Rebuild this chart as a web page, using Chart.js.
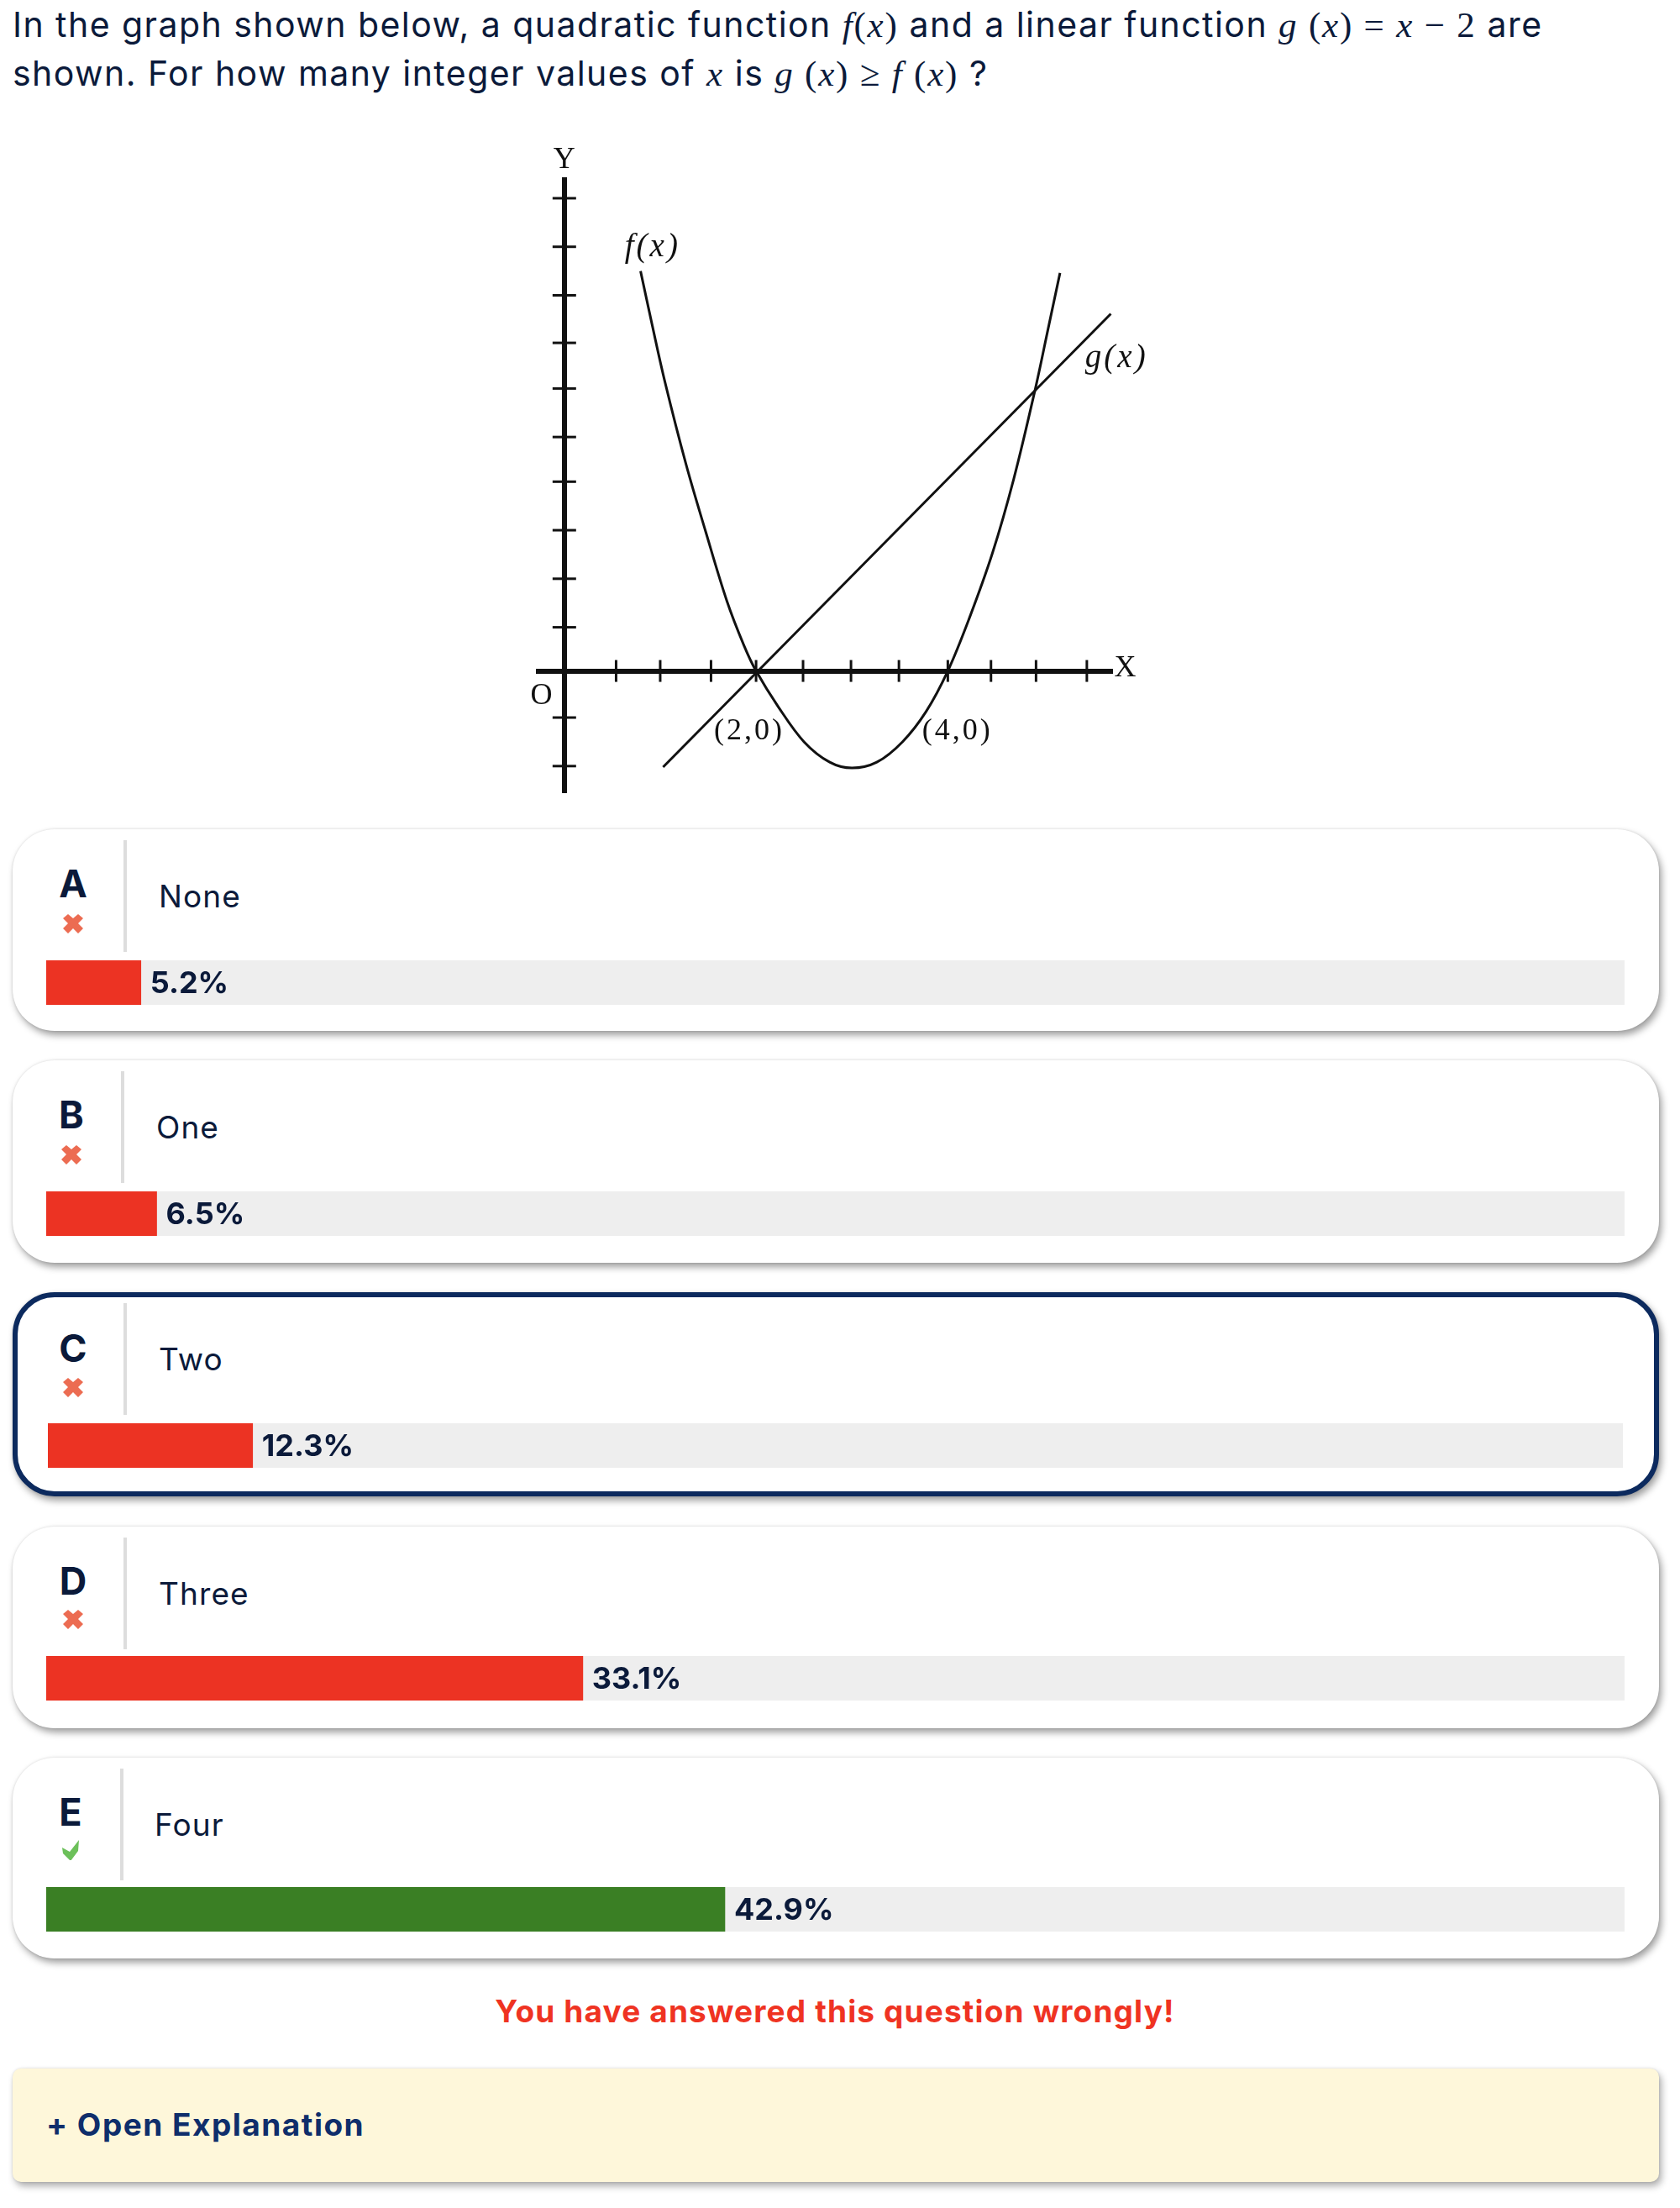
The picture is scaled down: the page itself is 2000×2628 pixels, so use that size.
<!DOCTYPE html>
<html>
<head>
<meta charset="utf-8">
<script src="https://cdn.jsdelivr.net/npm/chart.js@4"></script>
<style>
  html, body { margin:0; padding:0; background:#fff; }
  body { position:relative; width:2000px; height:2628px; overflow:hidden; font-family:Inter, sans-serif; color:#0b1a3a; }
  .abs { position:absolute; white-space:nowrap; }
  .q { left:15px; font-size:41px; letter-spacing:1.45px; line-height:58px; }
  .m { font-family:"Liberation Serif", serif; font-size:43px; letter-spacing:1.8px; }
  .m i { font-style:italic; }
  .card { position:absolute; left:15px; width:1960px; background:#fff; border-radius:50px; box-sizing:border-box;
          box-shadow:3px 5px 8px rgba(0,0,0,.38), 0 0 3px rgba(0,0,0,.12); }
  .card.sel { border:6px solid #0c2a5e; }
  .letter { position:absolute; font-weight:700; font-size:45px; line-height:44px; transform:translate(-50%,-50%); }
  .divider { position:absolute; width:4px; height:133px; background:#ddd; }
  .opt { position:absolute; font-size:37px; line-height:44px; letter-spacing:1.1px; transform:translateY(-50%); }
  .icon { position:absolute; width:24px; height:24px; transform:translate(-50%,-50%); }
  canvas { position:absolute; }
  .msg { left:0; width:1988px; text-align:center; top:2371px; font-size:37px; line-height:46px; font-weight:700; color:#ef3322; letter-spacing:1.15px; }
  .expl { position:absolute; left:15px; top:2462px; width:1960px; height:135px; background:#fef7da; border-radius:10px;
          box-shadow:3px 5px 8px rgba(0,0,0,.32), 0 0 3px rgba(0,0,0,.12); }
  .expl span { position:absolute; left:40px; top:44px; font-size:37px; line-height:46px; font-weight:700; color:#0f2e6b; white-space:nowrap; letter-spacing:1.5px; }
</style>
</head>
<body>
<div class="abs q" style="top:0px">In the graph shown below, a quadratic function <span class="m"><i>f</i>(<i>x</i>)</span> and a linear function <span class="m"><i>g</i> (<i>x</i>) = <i>x</i> − 2</span> are</div>
<div class="abs q" style="top:58px">shown. For how many integer values of <span class="m"><i>x</i></span> is <span class="m"><i>g</i> (<i>x</i>) ≥ <i>f</i> (<i>x</i>)</span> ?</div>

<canvas id="graph" width="900" height="830" style="left:560px;top:150px"></canvas>
<div id="cards"></div>

<div class="abs msg">You have answered this question wrongly!</div>
<div class="expl"><span>+ Open Explanation</span></div>

<script>
// graph data
const fX = [0.795,0.915,1.049,1.272,1.473,1.696,1.875,2.0,2.232,2.5,2.768,3.0,3.259,3.527,3.772,4.0,4.219,4.464,4.688,4.911,5.045,5.17];
const fY = [4.12,3.57,2.98,2.12,1.44,0.72,0.26,0,-0.37,-0.73,-0.94,-1.0,-0.94,-0.73,-0.42,0,0.53,1.21,1.98,2.9,3.52,4.1];
const gX = [1.03,5.7];
const gY = [-0.99,3.68];
const xTicks = [0.54,1.0,1.53,2.0,2.49,2.99,3.49,4.0,4.45,4.92,5.45];
const yTicks = [4.87,4.37,3.87,3.38,2.91,2.41,1.95,1.45,0.95,0.45,-0.48,-0.98];
const graphTexts = ['Y','f(x)','g(x)','X','O','(2,0)','(4,0)'];
const textX = [0,0.92,5.76,5.85,-0.24,1.93,4.1];
const textY = [5.26,4.36,3.22,0.03,-0.26,-0.62,-0.62];
const textItalic = [false,true,true,false,false,false,false];

// answer options
const letters = ['A','B','C','D','E'];
const answers = ['None','One','Two','Three','Four'];
const pctLabels = ['5.2%','6.5%','12.3%','33.1%','42.9%'];
const barLengths = [6,7,13,34,43];
const correct = [false,false,false,false,true];

// layout of the cards
const cardTop = [987,1262,1538,1817,2092];
const cardHeight = [240,241,243,240,239];
const barTop = [1143,1418,1694,1971,2246];
const barLeft = [55,55,57,55,55];
const barWidth = [1879,1879,1875,1879,1879];
const letterX = [87,85,87,87,84];
const letterY = [1052,1327,1605,1882,2157];
const iconY = [1099,1374,1651,1927,2202];
const dividerX = [147,144,147,147,143];
const textLeft = [189,186,189,189,184];

const pairs = (xs, ys) => xs.map((x, i) => ({x, y: ys[i]}));

const graphLabels = {
  id: 'graphLabels',
  afterDatasetsDraw(chart) {
    const {ctx, scales} = chart;
    ctx.save();
    ctx.fillStyle = '#111';
    ctx.textAlign = 'center';
    ctx.textBaseline = 'middle';
    graphTexts.forEach((t, i) => {
      ctx.font = (textItalic[i] ? 'italic 39px' : '36px') + ' "Liberation Serif"';
      ctx.letterSpacing = t.length > 1 ? '3px' : '0px';
      ctx.fillText(t, scales.x.getPixelForValue(textX[i]), scales.y.getPixelForValue(textY[i]));
    });
    ctx.restore();
  }
};

new Chart(document.getElementById('graph').getContext('2d'), {
  type: 'scatter',
  plugins: [graphLabels],
  data: {
    datasets: [
      { data: pairs(fX, fY), showLine: true, tension: 0.35, borderColor: '#111', borderWidth: 3, pointRadius: 0, clip: false },
      { data: pairs(gX, gY), showLine: true, borderColor: '#111', borderWidth: 3, pointRadius: 0, clip: false },
      { data: xTicks.map(x => ({x, y: 0})), pointStyle: 'line', pointRadius: 13, pointRotation: 90, pointBorderWidth: 3, pointBorderColor: '#111' },
      { data: yTicks.map(y => ({x: 0, y})), pointStyle: 'line', pointRadius: 14, pointBorderWidth: 3, pointBorderColor: '#111' }
    ]
  },
  options: {
    responsive: false,
    animation: false,
    layout: { padding: { left: 81, right: 136, top: 64, bottom: 37 } },
    plugins: { legend: { display: false }, tooltip: { enabled: false } },
    scales: {
      x: { type: 'linear', min: -0.27, max: 5.714, position: { y: 0 }, grid: { display: false }, ticks: { display: false }, border: { color: '#111', width: 6 } },
      y: { type: 'linear', min: -1.25, max: 5.06, position: { x: 0 }, grid: { display: false }, ticks: { display: false }, border: { color: '#111', width: 6 } }
    }
  }
});

const crossIcon = '<path d="M6 1 L12 6 L18 1 L24 6 L18 12 L24 18 L18 24 L12 18 L6 24 L0 18 L6 12 L0 6 Z" fill="#ec6c52"/>';
const checkIcon = '<path d="M2 9 L11 14 L22 0 L21 13 L12 25 L3 16 Z" fill="#6cc05a"/>';
const cards = document.getElementById('cards');

letters.forEach((letter, i) => {
  const sel = i === 2;
  cards.insertAdjacentHTML('beforeend', `
    <div class="card${sel ? ' sel' : ''}" style="top:${cardTop[i]}px;height:${cardHeight[i]}px"></div>
    <div class="letter" style="left:${letterX[i]}px;top:${letterY[i]}px">${letter}</div>
    <svg class="icon" viewBox="0 0 24 24" style="left:${letterX[i]}px;top:${iconY[i]}px">${correct[i] ? checkIcon : crossIcon}</svg>
    <div class="divider" style="left:${dividerX[i]}px;top:${cardTop[i] + 13}px"></div>
    <div class="opt" style="left:${textLeft[i]}px;top:${cardTop[i] + 80}px">${answers[i]}</div>
    <canvas id="bar${i}" width="${barWidth[i]}" height="53" style="left:${barLeft[i]}px;top:${barTop[i]}px"></canvas>`);
});

letters.forEach((letter, i) => {
  const pctLabel = {
    id: 'pctLabel',
    afterDatasetsDraw(chart) {
      const {ctx, scales} = chart;
      ctx.save();
      ctx.font = '700 36px Inter';
      ctx.fillStyle = '#0b1a3a';
      ctx.textBaseline = 'middle';
      ctx.fillText(pctLabels[i], scales.x.getPixelForValue(barLengths[i]) + 11, 28);
      ctx.restore();
    }
  };
  new Chart(document.getElementById('bar' + i).getContext('2d'), {
    type: 'bar',
    plugins: [pctLabel],
    data: {
      labels: [letter],
      datasets: [
        { data: [barLengths[i]], backgroundColor: correct[i] ? '#3a7f24' : '#ec3323', barPercentage: 1, categoryPercentage: 1 },
        { data: [100 - barLengths[i]], backgroundColor: '#eeeeee', barPercentage: 1, categoryPercentage: 1 }
      ]
    },
    options: {
      indexAxis: 'y',
      responsive: false,
      animation: false,
      plugins: { legend: { display: false }, tooltip: { enabled: false } },
      scales: {
        x: { display: false, stacked: true, min: 0, max: 100 },
        y: { display: false, stacked: true }
      }
    }
  });
});
</script>
</body>
</html>
